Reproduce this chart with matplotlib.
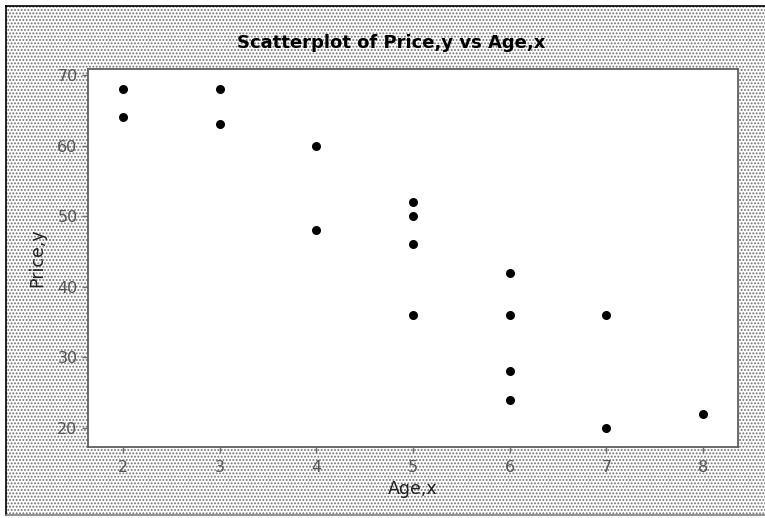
import matplotlib.pyplot as plt
from matplotlib.patches import Rectangle

age = [2, 2, 3, 3, 4, 4, 5, 5, 5, 5, 6, 6, 6, 6, 7, 7, 8]
price = [68, 64, 68, 63, 60, 48, 52, 50, 46, 36, 42, 36, 28, 24, 36, 20, 22]
xticks = [2, 3, 4, 5, 6, 7, 8]
yticks = [20, 30, 40, 50, 60, 70]

plt.rcParams['hatch.linewidth'] = 0.9
plt.rcParams['hatch.color'] = '#707070'

fig = plt.figure(figsize=(7.65, 5.18), dpi=100)
fig.patch.set_facecolor('white')

# stippled background like minitab, image is cut off at the right
bg = Rectangle((6/765, 3/518), 1.0, 509/518, transform=fig.transFigure,
               facecolor='white', edgecolor='#707070', hatch='.....', linewidth=0, zorder=-2)
fig.patches.append(bg)
fig.add_artist(plt.Line2D([6/765, 6/765], [3/518, 1 - 6/518], transform=fig.transFigure,
                          color='black', linewidth=1.2))
fig.add_artist(plt.Line2D([6/765, 1], [1 - 6/518, 1 - 6/518], transform=fig.transFigure,
                          color='black', linewidth=1.2))
fig.add_artist(plt.Line2D([6/765, 1], [3/518, 3/518], transform=fig.transFigure,
                          color='#808080', linewidth=1.2))

ax = fig.add_axes([88/765, 1 - 447/518, 650/765, 378/518])
ax.set_facecolor('white')
ax.scatter(age, price, s=30, color='black', zorder=3)

ax.set_xlim(1.64, 8.36)
ax.set_ylim(17.3, 70.85)
ax.set_xticks(xticks)
ax.set_yticks(yticks)
ax.tick_params(direction='out', length=4, width=1, color='#707070',
               labelcolor='#555555', labelsize=11.5)
ax.tick_params(axis='x', pad=5)
for s in ax.spines.values():
    s.set_color('#606060')
    s.set_linewidth(1.3)

ax.set_xlabel('Age,x', fontsize=12.5, color='#202020', labelpad=4)
ax.set_ylabel('Price,y', fontsize=12.5, color='#202020', labelpad=8)
fig.text(391/765, 1 - 43/518, 'Scatterplot of Price,y vs Age,x', ha='center', va='center',
         fontsize=13, fontweight='bold')

fig.savefig('out.png', dpi=100)
